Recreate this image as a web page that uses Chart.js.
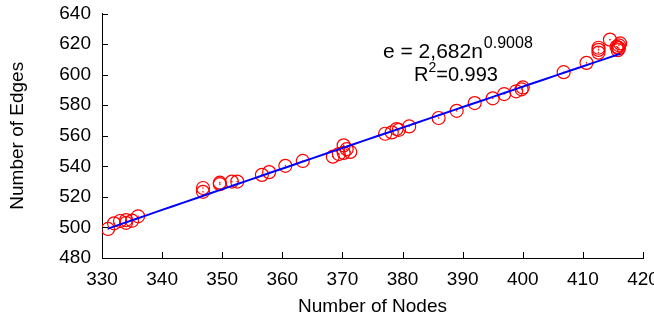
<!DOCTYPE html>
<html>
<head>
<meta charset="utf-8">
<script src="https://cdn.jsdelivr.net/npm/chart.js@4.4.1/dist/chart.umd.min.js"></script>
<style>
  html, body { margin: 0; padding: 0; background: #fff; }
  #wrap { width: 654px; height: 322px; }
</style>
</head>
<body>
<div id="wrap"><canvas id="chart" width="654" height="322"></canvas></div>
<script>
// 노드 수 / 엣지 수 측정값
const nodes = [331, 332, 333, 334, 334, 335, 336,
  346.8, 346.8, 349.6, 349.6, 351.6, 352.5, 356.6, 357.8, 360.5, 363.4,
  368.4, 369.4, 370.2, 370.2, 371.3, 370.7,
  377.1, 378.2, 379, 379.4, 381.1,
  386, 389, 392, 395, 396.9, 398.9, 399.8, 400,
  406.8, 410.6, 412.6, 412.6, 412.6, 414.5,
  415.6, 415.8, 416, 416, 416.2, 415.8];
const edges = [499, 502.7, 504.2, 503, 504.8, 504.4, 507.3,
  525.8, 523.3, 529.3, 528.3, 530, 530, 534.4, 536.2, 540.3, 543.5,
  546.3, 548, 553.7, 548.8, 549.4, 551.2,
  561.3, 562.2, 564.4, 563.9, 566.1,
  571.6, 576.3, 581.4, 584.5, 587.3, 589.1, 590.4, 591.6,
  601.6, 607.7, 614.4, 616.2, 617.6, 622.9,
  618.2, 616, 617.3, 619.2, 620.4, 617.8];

// 회귀식 e = a * n^b
const fitA = 2.682;
const fitB = 0.9008;
const fitR2 = 0.993;

const xTicks = [330, 340, 350, 360, 370, 380, 390, 400, 410, 420];
const yTicks = [480, 500, 520, 540, 560, 580, 600, 620, 640];

const FONT = 'Liberation Sans, Arial, Helvetica, sans-serif';

const points = nodes.map((n, i) => ({ x: n, y: edges[i] }));

// 회귀선: 최소~최대 노드 구간
const nMin = Math.min(...nodes);
const nMax = Math.max(...nodes);
const fitLine = [];
for (let n = nMin; n <= nMax + 1e-9; n += (nMax - nMin) / 40) {
    fitLine.push({ x: n, y: fitA * Math.pow(n, fitB) });
}

// 안쪽으로 향하는 눈금 + 회귀식 텍스트
const innerTicks = {
    id: 'innerTicks',
    afterDraw(chart) {
        const { ctx, chartArea, scales } = chart;
        ctx.save();
        ctx.strokeStyle = '#000';
        ctx.lineWidth = 1;
        ctx.beginPath();
        xTicks.forEach(v => {
            const px = Math.round(scales.x.getPixelForValue(v)) + 0.5;
            ctx.moveTo(px, chartArea.bottom);
            ctx.lineTo(px, chartArea.bottom - 6);
        });
        yTicks.forEach(v => {
            const py = Math.round(scales.y.getPixelForValue(v)) + 0.5;
            ctx.moveTo(chartArea.left, py);
            ctx.lineTo(chartArea.left + 6, py);
        });
        ctx.stroke();

        // 식 표기
        ctx.fillStyle = '#000';
        ctx.textBaseline = 'alphabetic';
        ctx.font = '21px ' + FONT;
        const eqX = 383, eqY = 58;
        const base = 'e = ' + fitA.toFixed(3).replace('.', ',') + 'n';
        ctx.fillText(base, eqX, eqY);
        const w = ctx.measureText(base).width;
        ctx.font = '16px ' + FONT;
        ctx.fillText(fitB.toFixed(4), eqX + w + 1, eqY - 10);

        ctx.font = '20px ' + FONT;
        const rX = 414, rY = 81;
        ctx.fillText('R', rX, rY);
        const rw = ctx.measureText('R').width;
        ctx.font = '14px ' + FONT;
        ctx.fillText('2', rX + rw, rY - 9);
        const sw = ctx.measureText('2').width;
        ctx.font = '20px ' + FONT;
        ctx.fillText('=' + fitR2.toFixed(3), rX + rw + sw, rY);
        ctx.restore();
    }
};

new Chart(document.getElementById('chart'), {
    type: 'scatter',
    data: {
        datasets: [
            {
                label: 'fit',
                data: fitLine,
                showLine: true,
                borderColor: '#0000ff',
                borderWidth: 2,
                pointRadius: 0,
                order: 0
            },
            {
                label: 'center',
                data: points,
                pointRadius: 0.8,
                pointBorderWidth: 0,
                backgroundColor: '#ff0000',
                order: 1
            },
            {
                label: 'data',
                data: points,
                pointRadius: 6.5,
                pointBorderWidth: 1.2,
                borderColor: '#ff0000',
                backgroundColor: 'rgba(0,0,0,0)',
                order: 2
            }
        ]
    },
    options: {
        responsive: false,
        animation: false,
        devicePixelRatio: 1,
        layout: { padding: { top: 13.5, right: 11, left: 0, bottom: 0 } },
        plugins: {
            legend: { display: false },
            tooltip: { enabled: false }
        },
        scales: {
            x: {
                type: 'linear',
                min: 330,
                max: 420,
                afterBuildTicks: s => { s.ticks = xTicks.map(v => ({ value: v })); },
                afterFit: s => { s.height = 64; s.paddingLeft = 0; s.paddingRight = 0; },
                grid: { display: true, drawOnChartArea: false, drawTicks: false },
                border: { display: true, color: '#000', width: 1 },
                ticks: { color: '#000', padding: 10, font: { family: FONT, size: 19 } },
                title: {
                    display: true,
                    text: 'Number of Nodes',
                    color: '#000',
                    font: { family: FONT, size: 19 },
                    padding: { top: 0, bottom: 4 }
                }
            },
            y: {
                type: 'linear',
                min: 480,
                max: 640,
                afterBuildTicks: s => { s.ticks = yTicks.map(v => ({ value: v })); },
                afterFit: s => { s.width = 102; s.paddingTop = 0; s.paddingBottom = 0; },
                grid: { display: true, drawOnChartArea: false, drawTicks: false },
                border: { display: true, color: '#000', width: 1 },
                ticks: { color: '#000', padding: 11, font: { family: FONT, size: 19 } },
                title: {
                    display: true,
                    text: 'Number of Edges',
                    color: '#000',
                    font: { family: FONT, size: 19 },
                    padding: { top: 6, bottom: 0 }
                }
            }
        }
    },
    plugins: [innerTicks]
});
</script>
</body>
</html>
